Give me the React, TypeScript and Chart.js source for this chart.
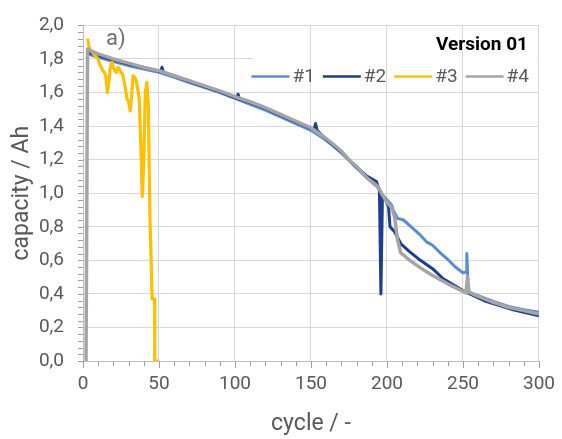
import { useEffect, useRef } from 'react';
import { Chart, registerables } from 'chart.js';

Chart.register(...registerables);

// Capacity fade of four cells (cycle number vs. discharge capacity in Ah)
const seriesLabels = ['#1', '#2', '#3', '#4'];

const cycles1 = [3, 10, 20, 30, 40, 50, 60, 70, 80, 90, 100, 110, 120, 130, 140, 150, 160, 170, 180, 187, 194, 197, 200, 203, 204, 207, 211, 217, 222, 226, 230, 235, 240, 245, 250, 252, 252.5, 253.5, 260, 270, 280, 290, 300];
const capacity1 = [1.83, 1.81, 1.785, 1.76, 1.74, 1.72, 1.69, 1.66, 1.63, 1.6, 1.565, 1.53, 1.495, 1.455, 1.415, 1.375, 1.315, 1.24, 1.15, 1.09, 1.035, 0.99, 0.96, 0.93, 0.9, 0.85, 0.84, 0.79, 0.75, 0.71, 0.69, 0.645, 0.605, 0.56, 0.525, 0.53, 0.64, 0.41, 0.39, 0.355, 0.325, 0.305, 0.29];

const cycles2 = [3, 10, 20, 30, 40, 51, 52, 53, 60, 70, 80, 90, 101, 102, 103, 110, 120, 130, 140, 152, 153, 154, 160, 165, 170, 176, 180, 187, 193, 195, 196, 197, 199, 200, 201, 202, 205, 209, 215, 222, 230, 237, 250, 265, 283, 300];
const capacity2 = [1.84, 1.82, 1.795, 1.77, 1.75, 1.725, 1.75, 1.72, 1.7, 1.665, 1.635, 1.605, 1.565, 1.59, 1.56, 1.54, 1.505, 1.465, 1.425, 1.38, 1.415, 1.375, 1.32, 1.285, 1.245, 1.19, 1.155, 1.1, 1.07, 1.02, 0.4, 0.98, 0.965, 0.94, 0.92, 0.8, 0.77, 0.7, 0.65, 0.6, 0.55, 0.49, 0.42, 0.355, 0.305, 0.27];

const cycles3 = [3, 4, 5, 6, 7, 8, 9, 10, 11, 12, 13, 14, 15, 16, 17, 18, 19, 20, 21, 22, 23, 24, 25, 26, 27, 28, 29, 30, 31, 32, 33, 34, 35, 36, 37, 38, 39, 40, 41, 42, 43, 44, 45.5, 47, 47.2, 50];
const capacity3 = [1.92, 1.87, 1.85, 1.84, 1.83, 1.82, 1.81, 1.8, 1.77, 1.75, 1.73, 1.72, 1.7, 1.6, 1.66, 1.75, 1.78, 1.75, 1.73, 1.72, 1.75, 1.74, 1.72, 1.71, 1.67, 1.62, 1.56, 1.55, 1.49, 1.58, 1.7, 1.69, 1.67, 1.62, 1.56, 1.3, 0.98, 1.2, 1.6, 1.66, 1.52, 0.87, 0.37, 0.37, 0, 0];

const cycles4 = [2, 3, 5, 10, 20, 30, 40, 50, 60, 70, 80, 90, 100, 110, 120, 130, 140, 150, 160, 165, 170, 176, 180, 187, 194, 197, 200, 203, 205, 207, 209, 215, 222, 230, 240, 250, 252, 253, 254, 260, 270, 280, 290, 300];
const capacity4 = [0, 1.86, 1.85, 1.83, 1.8, 1.775, 1.75, 1.73, 1.7, 1.67, 1.64, 1.61, 1.575, 1.545, 1.51, 1.47, 1.43, 1.39, 1.325, 1.29, 1.25, 1.19, 1.16, 1.09, 1.04, 0.99, 0.945, 0.915, 0.86, 0.72, 0.645, 0.6, 0.555, 0.51, 0.46, 0.415, 0.405, 0.5, 0.41, 0.385, 0.35, 0.32, 0.3, 0.28];

const seriesCycles = [cycles1, cycles2, cycles3, cycles4];
const seriesCapacity = [capacity1, capacity2, capacity3, capacity4];
const seriesColors = ['#5c8bd3', '#1f3d8f', '#ffc000', '#a5a5a5'];
const seriesWidths = [3, 3, 3.2, 3.5];
const seriesOrder = [4, 3, 2, 1];

const FONT = 'Roboto, "DejaVu Sans", sans-serif';
const TEXT = '#595959';
const TICK_MARK = '#a0a0a0';

const isMultiple = (v: number, step: number) => Math.abs(v / step - Math.round(v / step)) < 1e-6;

// Small outside tick marks on both axes, one per scale tick
const tickMarksPlugin = {
  id: 'tickMarks',
  afterDraw(chart: any) {
    const { ctx, chartArea } = chart;
    const xs = chart.scales.x;
    const ys = chart.scales.y;
    ctx.save();
    ctx.strokeStyle = TICK_MARK;
    ctx.lineWidth = 1;
    ctx.beginPath();
    ys.ticks.forEach((t: any) => {
      const py = Math.round(ys.getPixelForValue(t.value)) + 0.5;
      ctx.moveTo(chartArea.left - 5, py);
      ctx.lineTo(chartArea.left, py);
    });
    xs.ticks.forEach((t: any) => {
      const px = Math.round(xs.getPixelForValue(t.value)) + 0.5;
      const len = isMultiple(t.value, 50) ? 7 : 5;
      ctx.moveTo(px, chartArea.bottom);
      ctx.lineTo(px, chartArea.bottom + len);
    });
    ctx.stroke();
    ctx.restore();
  },
};

// Legend panel in the top-right corner of the plot and the panel tag "a)"
const panelPlugin = {
  id: 'panelDecor',
  afterDatasetsDraw(chart: any) {
    const { ctx, chartArea } = chart;
    const boxLeft = chartArea.left + 170;
    const boxTop = chartArea.top + 4;
    const boxW = chartArea.right - 2 - boxLeft;
    const boxH = 58;

    ctx.save();
    ctx.beginPath();
    ctx.rect(boxLeft, boxTop, boxW, boxH);
    ctx.clip();
    ctx.fillStyle = '#ffffff';
    ctx.fillRect(boxLeft, boxTop, boxW, boxH);
    chart.scales.x.drawGrid(chartArea);
    ctx.restore();

    ctx.save();
    ctx.font = `bold 19px ${FONT}`;
    ctx.fillStyle = '#000000';
    ctx.textAlign = 'right';
    ctx.textBaseline = 'alphabetic';
    ctx.fillText('Version 01', chartArea.right - 11, chartArea.top + 25);

    ctx.font = `19px ${FONT}`;
    ctx.textAlign = 'left';
    ctx.textBaseline = 'middle';
    const y = chartArea.top + 51;
    let x = chartArea.right - 10;
    const sets = chart.data.datasets;
    for (let i = sets.length - 1; i >= 0; i--) {
      const label = sets[i].label as string;
      const w = ctx.measureText(label).width;
      ctx.fillStyle = TEXT;
      ctx.fillText(label, x - w, y + 1);
      ctx.strokeStyle = sets[i].borderColor;
      ctx.lineWidth = 2.5;
      ctx.beginPath();
      ctx.moveTo(x - w - 41, y);
      ctx.lineTo(x - w - 3, y);
      ctx.stroke();
      x = x - w - 49;
    }

    ctx.font = `22px ${FONT}`;
    ctx.fillStyle = '#707070';
    ctx.textAlign = 'left';
    ctx.textBaseline = 'middle';
    ctx.fillText('a)', chartArea.left + 23, chartArea.top + 14);
    ctx.restore();
  },
};

export default function App() {
  const canvasRef = useRef<HTMLCanvasElement>(null);

  useEffect(() => {
    const datasets = seriesLabels.map((label, i) => ({
      label,
      data: seriesCycles[i].map((c, j) => ({ x: c, y: seriesCapacity[i][j] })),
      borderColor: seriesColors[i],
      backgroundColor: seriesColors[i],
      borderWidth: seriesWidths[i],
      borderJoinStyle: 'round' as const,
      pointRadius: 0,
      tension: 0,
      fill: false,
      order: seriesOrder[i],
    }));

    const chart = new Chart(canvasRef.current!, {
      type: 'line',
      data: { datasets },
      plugins: [panelPlugin, tickMarksPlugin],
      options: {
        animation: false,
        responsive: true,
        maintainAspectRatio: false,
        layout: { padding: { top: 18, right: 19, left: 0, bottom: 0 } },
        plugins: {
          legend: { display: false },
          tooltip: { enabled: false },
        },
        scales: {
          x: {
            type: 'linear',
            min: 0,
            max: 300,
            afterFit: (scale: any) => {
              scale.height = 78;
            },
            ticks: {
              stepSize: 10,
              autoSkip: false,
              maxRotation: 0,
              padding: 7,
              color: TEXT,
              font: { family: FONT, size: 19 },
              callback: (v: any) => (isMultiple(Number(v), 50) ? String(v) : ''),
            },
            grid: {
              color: (c: any) => (c.tick && isMultiple(c.tick.value, 50) ? '#d9d9d9' : 'rgba(0,0,0,0)'),
              tickColor: 'rgba(0,0,0,0)',
              tickLength: 5,
              lineWidth: 1,
            },
            border: { color: '#bfbfbf', width: 1 },
            title: {
              display: true,
              text: 'cycle / -',
              color: TEXT,
              font: { family: FONT, size: 23 },
              padding: { top: 0, bottom: 1 },
            },
          },
          y: {
            type: 'linear',
            min: 0,
            max: 2,
            afterFit: (scale: any) => {
              scale.width = 83;
            },
            ticks: {
              stepSize: 0.04,
              autoSkip: false,
              padding: 14,
              color: TEXT,
              font: { family: FONT, size: 19 },
              callback: (v: any) => (isMultiple(Number(v), 0.2) ? Number(v).toFixed(1).replace('.', ',') : ''),
            },
            grid: {
              color: (c: any) => (c.tick && isMultiple(c.tick.value, 0.2) ? '#d9d9d9' : 'rgba(0,0,0,0)'),
              tickColor: 'rgba(0,0,0,0)',
              tickLength: 5,
              lineWidth: 1,
            },
            border: { color: '#bfbfbf', width: 1 },
            title: {
              display: true,
              text: 'capacity / Ah',
              color: TEXT,
              font: { family: FONT, size: 23 },
              padding: { top: 8, bottom: 0 },
            },
          },
        },
      },
    });

    return () => chart.destroy();
  }, []);

  return (
    <div style={{ position: 'absolute', left: 0, top: 0, width: 562, height: 439, background: '#ffffff' }}>
      <canvas ref={canvasRef} />
    </div>
  );
}
